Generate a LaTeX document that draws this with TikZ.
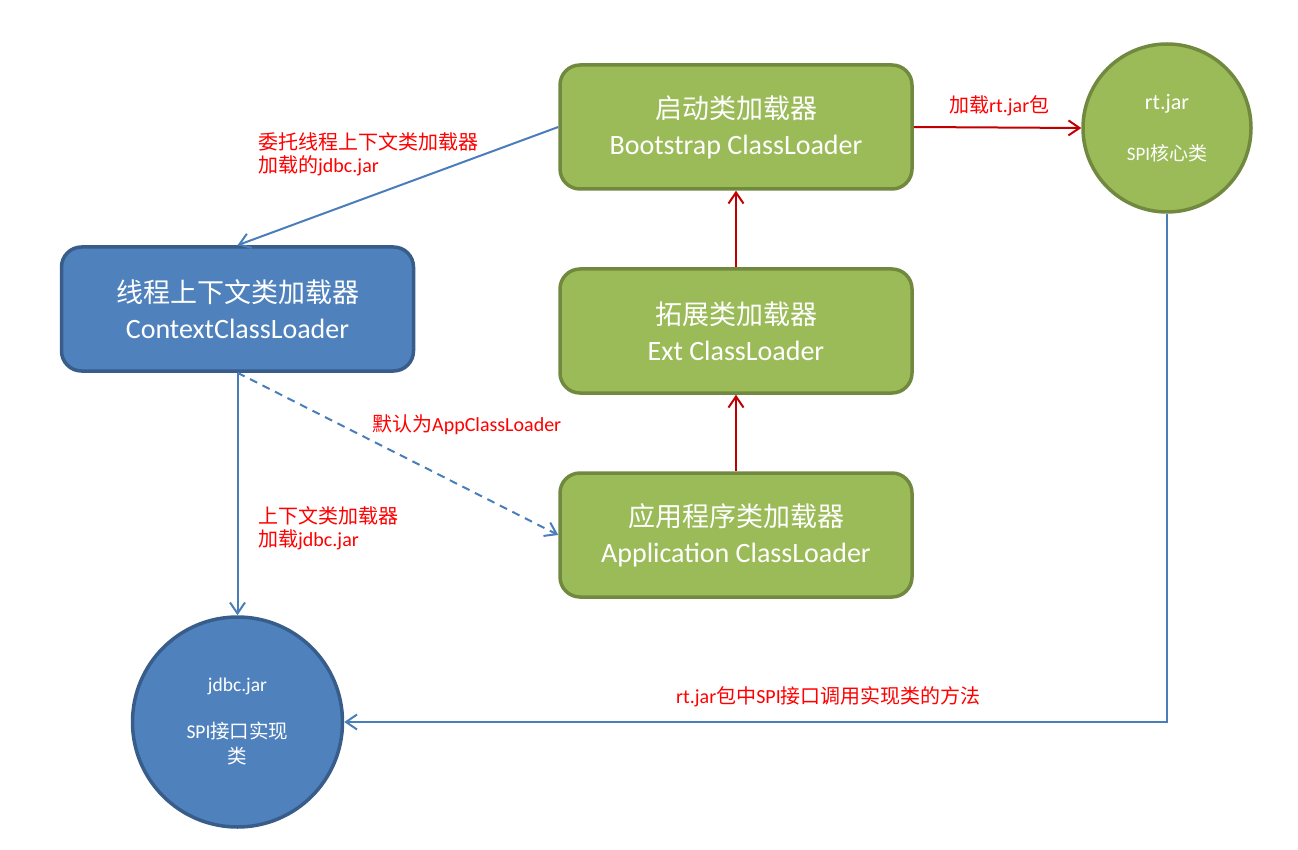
\documentclass[tikz,border=0pt]{standalone}
\usepackage{fontspec}
\setmainfont{Carlito}
\newfontfamily\cjk{Noto Sans CJK SC}
\usetikzlibrary{arrows.meta}

\definecolor{greenfill}{HTML}{9BBB59}
\definecolor{greenline}{HTML}{71893F}
\definecolor{bluefill}{HTML}{4F81BD}
\definecolor{blueline}{HTML}{385D8A}
\definecolor{bluelink}{HTML}{4A7EBB}
\definecolor{redlink}{HTML}{C00000}
\definecolor{redtext}{HTML}{FF0000}

\tikzset{
  loaderbox/.style={rectangle, rounded corners=20pt, line width=3.5pt,
    minimum width=352pt, minimum height=124pt, inner sep=0pt,
    text=white, align=center, font=\fontsize{28}{36}\selectfont},
  greenbox/.style={loaderbox, fill=greenfill, draw=greenline},
  bluebox/.style={loaderbox, fill=bluefill, draw=blueline},
  jarcircle/.style={circle, line width=3.5pt, inner sep=0pt, text=white, align=center},
  barb/.tip={Straight Barb[length=11pt,width=15pt]},
  redarrow/.style={draw=redlink, line width=2pt, -barb},
  bluearrow/.style={draw=bluelink, line width=2pt, -barb},
  note/.style={text=redtext, anchor=west, align=left, inner sep=0pt,
    font=\fontsize{20}{23}\selectfont},
}

\newcommand{\zh}[1]{{\cjk #1}}

\begin{document}
\begin{tikzpicture}[x=1pt,y=-1pt]
\useasboundingbox (0,0) rectangle (1298,850);

% class loaders
\node[greenbox] (boot) at (736,127)
  {{\cjk\fontsize{27}{36}\selectfont 启动类加载器}\\Bootstrap ClassLoader};
\node[greenbox] (ext) at (736,331)
  {{\cjk\fontsize{27}{36}\selectfont 拓展类加载器}\\Ext ClassLoader};
\node[greenbox] (app) at (736,535)
  {{\cjk\fontsize{27}{36}\selectfont 应用程序类加载器}\\Application ClassLoader};
\node[bluebox] (ctx) at (237.5,309)
  {{\cjk\fontsize{27}{36}\selectfont 线程上下文类加载器}\\ContextClassLoader};

% jar files
\node[jarcircle, fill=greenfill, draw=greenline, minimum size=168pt] (rt) at (1167,128)
  {{\fontsize{22}{25}\selectfont rt.jar}\\[30pt]{\fontsize{19}{25}\selectfont SPI\zh{核心类}}};
\node[jarcircle, fill=bluefill, draw=blueline, minimum size=210pt,
      font=\fontsize{19.5}{25}\selectfont] (jdbc) at (237.5,722)
  {jdbc.jar\\[22pt]SPI\zh{接口实现}\\\zh{类}};

% parent delegation and loading
\draw[redarrow] (boot.east) -- (rt.west);
\draw[redarrow] (ext.north) -- (boot.south);
\draw[redarrow] (app.north) -- (ext.south);

% context loader links
\draw[bluearrow] (boot.west) -- (ctx.north);
\draw[bluearrow, dashed, dash pattern=on 8pt off 6pt] (ctx.south) -- (app.west);
\draw[bluearrow] (ctx.south) -- (jdbc.north);
\draw[bluearrow] (rt.south) |- (jdbc.east);

% annotations
\node[note] (n1) at (949,106) {\zh{加载}rt.jar\zh{包}};
\node[note] (n2) at (258,154) {\zh{委托线程上下文类加载器}\\\zh{加载的}jdbc.jar};
\node[note] (n3) at (372,425) {\zh{默认为}AppClassLoader};
\node[note] (n4) at (258,528) {\zh{上下文类加载器}\\\zh{加载}jdbc.jar};
\node[note] (n5) at (676,697) {rt.jar\zh{包中}SPI\zh{接口调用实现类的方法}};
\end{tikzpicture}
\end{document}
